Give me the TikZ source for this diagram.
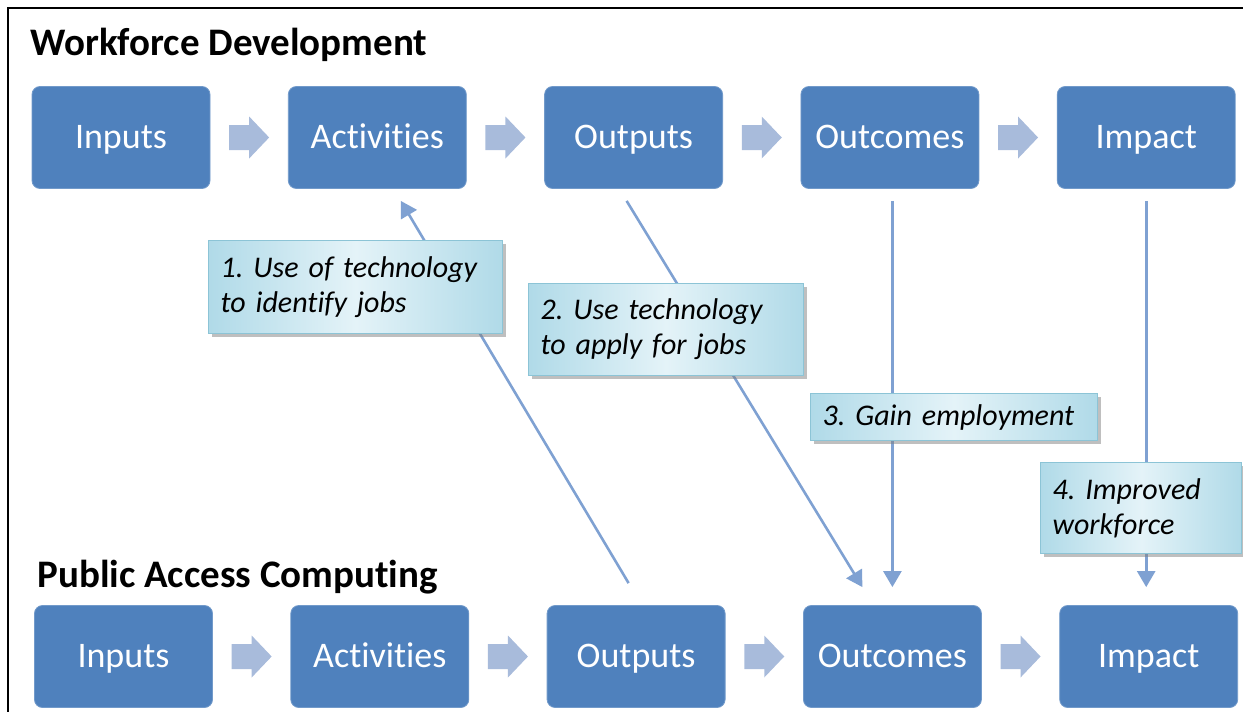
\documentclass[tikz,border=0pt]{standalone}
\usepackage{fontspec}
\setmainfont{Carlito}[Ligatures=NoCommon]
\usetikzlibrary{positioning,calc,shadows,arrows.meta}
\frenchspacing

\definecolor{stageblue}{RGB}{79,129,189}
\definecolor{flowblue}{RGB}{168,187,219}
\definecolor{linkblue}{RGB}{127,161,210}
\definecolor{notelight}{RGB}{228,243,248}
\definecolor{notedark}{RGB}{176,218,232}
\definecolor{noteedge}{RGB}{140,196,214}

\begin{document}
\begin{tikzpicture}[x=0.5pt, y=-0.5pt, node distance=38.75pt]
    \tikzstyle{stage}=[rectangle, rounded corners=4pt, fill=stageblue, draw=stageblue!80!white,
        minimum width=89pt, minimum height=51pt, inner sep=0pt, text=white,
        text height=14pt, text depth=3.5pt, font=\fontsize{18}{21}\selectfont]
    \tikzstyle{title}=[anchor=base west, inner sep=0pt, font=\fontsize{19.5}{23}\selectfont\bfseries]
    \tikzstyle{link}=[draw=linkblue, line width=1.3pt, -{Triangle[width=9pt,length=8pt]}]
    \tikzstyle{note}=[anchor=north west, align=left, inner xsep=6pt, inner ysep=0pt,
        left color=notedark, right color=notedark, middle color=notelight,
        draw=noteedge, line width=0.6pt,
        drop shadow={shadow xshift=1.5pt, shadow yshift=-1.5pt, fill=black!50, opacity=.5},
        font=\fontsize{15}{17.5}\selectfont\itshape]
    \tikzset{flow/.pic={
        \fill[flowblue] (-20,-12.5) -- (0,-12.5) -- (0,-21) -- (20,0) -- (0,21) -- (0,12.5) -- (-20,12.5) -- cycle;
    }}

    \useasboundingbox (0,0) rectangle (1243,712);
    \draw[line width=1pt] (8,712) -- (8,8) -- (1243,8);

    % workforce development
    \node[title] (wfTitle) at (30,55) {Workforce Development};
    \node[stage] (tIn) at (121,137.5) {Inputs};
    \node[stage, right=of tIn] (tAct) {Activities};
    \node[stage, right=of tAct] (tOut) {Outputs};
    \node[stage, right=of tOut] (tOutc) {Outcomes};
    \node[stage, right=of tOutc] (tImp) {Impact};

    % public access computing
    \node[title] (pacTitle) at (37,587) {Public Access Computing};
    \node[stage] (bIn) at (123.5,656.5) {Inputs};
    \node[stage, right=of bIn] (bAct) {Activities};
    \node[stage, right=of bAct] (bOut) {Outputs};
    \node[stage, right=of bOut] (bOutc) {Outcomes};
    \node[stage, right=of bOutc] (bImp) {Impact};

    \pic at ($(tIn.east)!.5!(tAct.west)$) {flow};
    \pic at ($(tAct.east)!.5!(tOut.west)$) {flow};
    \pic at ($(tOut.east)!.5!(tOutc.west)$) {flow};
    \pic at ($(tOutc.east)!.5!(tImp.west)$) {flow};
    \pic at ($(bIn.east)!.5!(bAct.west)$) {flow};
    \pic at ($(bAct.east)!.5!(bOut.west)$) {flow};
    \pic at ($(bOut.east)!.5!(bOutc.west)$) {flow};
    \pic at ($(bOutc.east)!.5!(bImp.west)$) {flow};

    % links between the two chains
    \draw[link] ([xshift=-3.75pt,yshift=11pt]bOut.north) -- ([xshift=11.75pt,yshift=-6pt]tAct.south);
    \draw[link] ([xshift=-3.5pt,yshift=-6pt]tOut.south) -- ([xshift=-15pt,yshift=9pt]bOutc.north);
    \draw[link, shorten <=6pt, shorten >=9pt] (bOutc.north |- tOutc.south) -- (bOutc.north);
    \draw[link, shorten <=6pt, shorten >=9pt] (tImp.south) -- (tImp.south |- bImp.north);

    \node[note, text width=135pt, minimum height=46.5pt] (techJobs) at (208,240)
        {1. Use of technology\\to identify jobs};
    \node[note, text width=125.5pt, minimum height=46pt] (techApply) at (528,283)
        {2. Use technology\\to apply for jobs};
    \node[note, text width=131.5pt, minimum height=23.5pt] (gainJob) at (810,393)
        {3. Gain employment};
    \node[note, text width=88.5pt, minimum height=45.5pt] (betterWork) at (1040,462)
        {4. Improved\\workforce};
\end{tikzpicture}
\end{document}
